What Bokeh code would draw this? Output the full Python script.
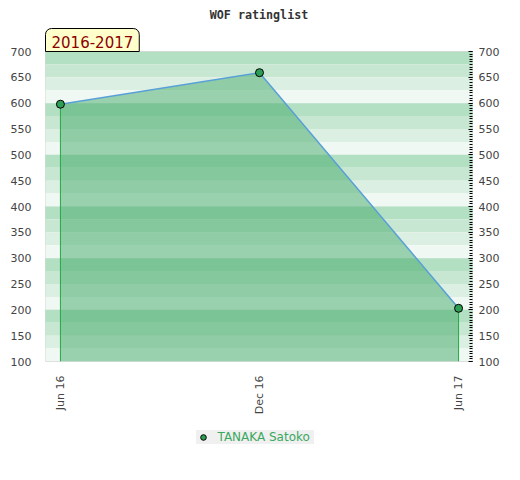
import numpy as np
from bokeh.plotting import figure
from bokeh.layouts import column
from bokeh.models import (Range1d, LinearAxis, Title, Legend, LegendItem,
                          FixedTicker, SingleIntervalTicker)
from bokeh.embed import file_html
from bokeh.resources import INLINE

# ---- data ----
dates = ["Jun 16", "Dec 16", "Jun 17"]
ratings = [598, 659, 203]
player = "TANAKA Satoko"
title_text = "WOF ratinglist"
season = "2016-2017"
y_ticks = [100, 150, 200, 250, 300, 350, 400, 450, 500, 550, 600, 650, 700]

xs = np.arange(len(dates))
ymin, ymax = 100, 700

p = figure(frame_width=427, frame_height=310, output_backend="svg",
           toolbar_location=None, x_range=Range1d(-0.075, 2.07),
           y_range=Range1d(ymin, ymax),
           min_border_left=45, min_border_right=40, min_border_top=50,
           min_border_bottom=61, background_fill_color="white",
           border_fill_color="white", outline_line_color="#d8d8d8")

# background bands
band_colors = ["#b3dfc3", "#c8e7d2", "#dcefe3", "#eff8f2"]
tops = np.arange(ymax, ymin, -25)
cols = [band_colors[i % 4] for i in range(len(tops))]
p.quad(left=-1, right=3, top=tops, bottom=tops - 25, fill_color=cols,
       line_color=None)

p.xgrid.grid_line_color = None
p.ygrid.grid_line_color = "#cccccc"
p.ygrid.grid_line_alpha = 0.35
p.ygrid.ticker = SingleIntervalTicker(interval=100)

# area
p.varea(x=xs, y1=ymin, y2=ratings, fill_color="#43aa69", fill_alpha=0.5)
p.segment(x0=[xs[0], xs[-1]], y0=[ymin, ymin], x1=[xs[0], xs[-1]],
          y1=[ratings[0], ratings[-1]], line_color="#22aa44", line_width=1)
p.line(xs, ratings, line_color="#5aa0d8", line_width=1.5)
p.scatter(xs, ratings, size=8, fill_color="#2e9e55", line_color="black",
          line_width=1)

# axes
p.xaxis.ticker = FixedTicker(ticks=list(xs))
p.xaxis.major_label_overrides = {int(i): d for i, d in zip(xs, dates)}
p.xaxis.major_label_orientation = np.pi / 2
p.xaxis.axis_line_color = None
p.xaxis.major_tick_line_color = None
p.xaxis.minor_tick_line_color = None
p.xaxis.major_label_text_font = "DejaVu Sans"
p.xaxis.major_label_text_font_size = "11px"
p.xaxis.major_label_text_color = "#444444"
p.xaxis.major_label_standoff = 8

p.yaxis.ticker = FixedTicker(ticks=y_ticks)
p.yaxis.axis_line_color = None
p.yaxis.major_tick_line_color = None
p.yaxis.minor_tick_line_color = None
p.yaxis.major_label_text_font = "DejaVu Sans"
p.yaxis.major_label_text_font_size = "11px"
p.yaxis.major_label_text_color = "#444444"
p.yaxis.major_label_standoff = 8

ry = LinearAxis(ticker=FixedTicker(ticks=y_ticks,
                                   minor_ticks=list(range(ymin, ymax + 1, 5))))
ry.axis_line_color = None
ry.major_tick_in = 4
ry.major_tick_out = 0
ry.minor_tick_in = 3
ry.minor_tick_out = 0
ry.major_tick_line_color = "black"
ry.minor_tick_line_color = "black"
ry.major_label_text_font = "DejaVu Sans"
ry.major_label_text_font_size = "11px"
ry.major_label_text_color = "#444444"
ry.major_label_standoff = 6
p.add_layout(ry, "right")

# season box (closest to frame), then main title
p.add_layout(Title(text=season, align="left", text_font="DejaVu Sans",
                   text_font_size="15px", text_font_style="normal",
                   text_color="#8b0000", background_fill_color="#ffffcc",
                   border_line_color="black", border_line_width=1,
                   padding=dict(left=6, right=6, top=7, bottom=4),
                   border_radius=(6, 6, 0, 0), standoff=0),
             "above")
p.add_layout(Title(text=title_text, align="center",
                   text_font="DejaVu Sans Mono", text_font_style="bold",
                   text_font_size="11.7px", text_color="#333333", standoff=10),
             "above")

# legend in a small strip below the chart
lf = figure(width=504, height=30, output_backend="svg", toolbar_location=None,
            x_range=Range1d(0, 1), y_range=Range1d(0, 1), min_border=0,
            outline_line_color=None, background_fill_color="white",
            border_fill_color="white")
lf.axis.visible = False
lf.grid.visible = False
key = lf.scatter(x=[-5], y=[-5], size=8, fill_color="#2e9e55",
                 line_color="black", line_width=1)
legend = Legend(items=[LegendItem(label=player, renderers=[key])],
                location="center", orientation="horizontal",
                background_fill_color="#f0f0f0", background_fill_alpha=1,
                border_line_color=None, label_text_color="#3aa860",
                label_text_font="DejaVu Sans", label_text_font_size="12px",
                glyph_width=14, glyph_height=14, label_height=14,
                label_width=96, padding=2, margin=0, label_standoff=8)
lf.add_layout(legend, "center")

open("out.html", "w").write(file_html(column(p, lf, spacing=0), INLINE))
